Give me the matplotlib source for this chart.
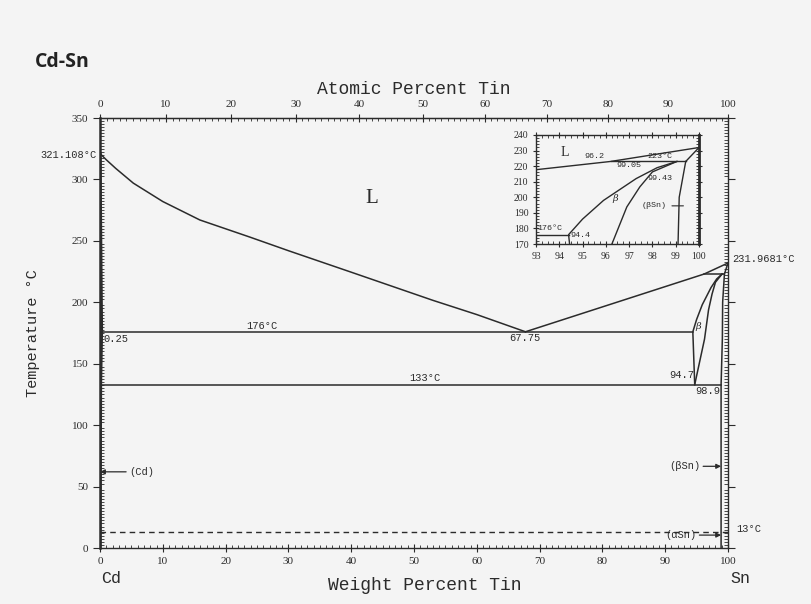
import matplotlib.pyplot as plt
import numpy as np
from matplotlib.ticker import MultipleLocator

# phase boundaries, weight percent Sn vs temperature (C)
liq_left_wt = [0, 1, 2.5, 5.3, 10, 15.9, 23.9, 30, 40, 53, 60, 67.75]
liq_left_T = [321.108, 316, 309, 297, 282, 267, 253, 242, 224.5, 201.6, 190, 176]
liq_right_wt = [67.75, 96.2, 100]
liq_right_T = [176, 223, 231.9681]
cd_solvus_wt = [0, 0.25, 0.1, 0]
cd_solvus_T = [321.108, 176, 133, 0]
beta_left_wt = [94.7, 94.4, 95.0, 95.9, 97.3, 98.2, 99.05]
beta_left_T = [133, 176, 186, 198, 212, 219, 223]
beta_right_wt = [94.7, 96.26, 96.9, 97.46, 98.0, 99.05]
beta_right_T = [133, 170, 193.8, 206.7, 216.3, 223]
sn_solvus_wt = [99.43, 99.15, 99.1, 98.9, 98.9]
sn_solvus_T = [223, 200, 170, 133, 0]
sn_solidus_wt = [99.43, 100]
sn_solidus_T = [223, 231.9681]
eutectic_wt = [0.25, 94.4]
eutectic_T = [176, 176]
eutectoid_wt = [0, 98.9]
eutectoid_T = [133, 133]
peritectic_wt = [96.2, 99.43]
peritectic_T = [223, 223]
allotropic_wt = [0, 100]
allotropic_T = [13, 13]

M_SN = 118.71
M_CD = 112.41


def wt_to_at(w):
    w = np.asarray(w, dtype=float)
    a = w / M_SN
    b = (100 - w) / M_CD
    return 100 * a / (a + b + 1e-12)


def at_to_wt(x):
    x = np.asarray(x, dtype=float)
    a = x * M_SN
    b = (100 - x) * M_CD
    return 100 * a / (a + b + 1e-12)


bg = '#f4f4f4'
ink = '#2b2b2b'
mono = 'Liberation Mono'
serif = 'Liberation Serif'

fig = plt.figure(figsize=(8.11, 6.04), dpi=100, facecolor=bg)
ax = fig.add_axes([100/811, 1-548/604, 628/811, 430/604], facecolor=bg)

solid = [(liq_left_wt, liq_left_T), (liq_right_wt, liq_right_T),
         (beta_left_wt, beta_left_T), (beta_right_wt, beta_right_T),
         (sn_solvus_wt, sn_solvus_T), (sn_solidus_wt, sn_solidus_T),
         (eutectic_wt, eutectic_T), (eutectoid_wt, eutectoid_T),
         (peritectic_wt, peritectic_T)]

for xs, ys in solid:
    ax.plot(xs, ys, color=ink, lw=1.1, solid_joinstyle='round')
ax.plot(cd_solvus_wt, cd_solvus_T, color=ink, lw=2.2)
ax.plot(allotropic_wt, allotropic_T, color=ink, lw=1.0, ls=(0, (4, 3)))

ax.set_xlim(0, 100)
ax.set_ylim(0, 350)
ax.xaxis.set_major_locator(MultipleLocator(10))
ax.xaxis.set_minor_locator(MultipleLocator(1))
ax.yaxis.set_major_locator(MultipleLocator(50))
ax.yaxis.set_minor_locator(MultipleLocator(2.5))
ax.tick_params(which='both', colors=ink, labelsize=8, right=True)
ax.tick_params(axis='x', which='major', direction='inout', length=6)
ax.tick_params(axis='x', which='minor', direction='in', length=2.5)
ax.tick_params(axis='y', which='major', direction='out', length=5)
ax.tick_params(axis='y', which='minor', direction='in', length=3)
for lab in ax.get_xticklabels() + ax.get_yticklabels():
    lab.set_family(serif)
for s in ax.spines.values():
    s.set_color(ink)
    s.set_linewidth(1.0)
ax.spines['left'].set_linewidth(1.8)

ax.set_xlabel('Weight Percent Tin', family=mono, fontsize=13, color=ink)
ax.xaxis.set_label_coords(0.517, -0.068)
ax.set_ylabel('Temperature °C', family=mono, fontsize=11, color=ink)
ax.yaxis.set_label_coords(-0.095, 0.5)

top = ax.secondary_xaxis('top', functions=(wt_to_at, at_to_wt))
top.xaxis.set_major_locator(MultipleLocator(10))
top.xaxis.set_minor_locator(MultipleLocator(1))
top.tick_params(which='major', direction='inout', length=6, labelsize=8, colors=ink)
top.tick_params(which='minor', direction='in', length=2.5, colors=ink)
for lab in top.get_xticklabels():
    lab.set_family(serif)
top.set_xlabel('Atomic Percent Tin', family=mono, fontsize=13, color=ink, labelpad=4)

fig.text(35/811, 1-62/604, 'Cd-Sn', fontsize=14, fontweight='bold',
         family='Open Sans', color='#222222', va='center')

# annotations on main diagram
tkw = dict(family=mono, fontsize=7.5, color=ink, clip_on=False)
ax.text(-0.5, 319.5, '321.108°C', ha='right', va='center', **tkw)
ax.text(43.3, 284.5, 'L', ha='center', va='center', family=serif, fontsize=15, color=ink)
ax.text(25.8, 180.5, '176°C', ha='center', va='center', **tkw)
ax.text(0.5, 170, '0.25', ha='left', va='center', **tkw)
ax.text(67.7, 175, '67.75', ha='center', va='top', **tkw)
ax.text(51.8, 138.5, '133°C', ha='center', va='center', **tkw)
ax.text(94.6, 140.5, '94.7', ha='right', va='center', **tkw)
ax.text(96.8, 132, '98.9', ha='center', va='top', **tkw)
ax.text(95.3, 180, 'β', ha='center', va='center', family='DejaVu Serif',
        fontsize=7, color=ink, style='italic')
ax.text(100.6, 235, '231.9681°C', ha='left', va='center', **tkw)
ax.text(101.3, 15.5, '13°C', ha='left', va='center', **tkw)

akw = dict(arrowstyle='-|>', color=ink, lw=0.9, mutation_scale=7, shrinkA=0, shrinkB=0)
ax.annotate('(Cd)', xy=(0, 62), xytext=(4.6, 62), ha='left', va='center',
            arrowprops=akw, **tkw)
ax.annotate('(βSn)', xy=(98.9, 66.5), xytext=(95.6, 66.5), ha='right', va='center',
            arrowprops=akw, **tkw)
ax.annotate('(αSn)', xy=(98.9, 10.5), xytext=(95.0, 10.5), ha='right', va='center',
            arrowprops=akw, **tkw)

ax.text(1.8, -0.07, 'Cd', transform=ax.get_xaxis_transform(), ha='center',
        va='center', family=mono, fontsize=12, color=ink)
ax.text(101.9, -0.07, 'Sn', transform=ax.get_xaxis_transform(), ha='center',
        va='center', family=mono, fontsize=12, color=ink)

# inset, Sn-rich corner
axi = fig.add_axes([536/811, 1-244/604, 163/811, 109/604], facecolor=bg)
for xs, ys in solid:
    axi.plot(xs, ys, color=ink, lw=1.0, solid_joinstyle='round')
axi.set_xlim(93, 100)
axi.set_ylim(170, 240)
axi.xaxis.set_major_locator(MultipleLocator(1))
axi.xaxis.set_minor_locator(MultipleLocator(0.25))
axi.yaxis.set_major_locator(MultipleLocator(10))
axi.yaxis.set_minor_locator(MultipleLocator(2))
axi.tick_params(which='both', colors=ink, labelsize=7, right=True, top=True)
axi.tick_params(which='major', direction='inout', length=4)
axi.tick_params(which='minor', direction='in', length=2)
for lab in axi.get_xticklabels() + axi.get_yticklabels():
    lab.set_family(serif)
for s in axi.spines.values():
    s.set_color(ink)
    s.set_linewidth(1.0)
axi.spines['right'].set_linewidth(2.0)

ikw = dict(family=mono, fontsize=6, color=ink)
axi.text(94.25, 229, 'L', ha='center', va='center', family=serif, fontsize=10, color=ink)
axi.text(95.5, 226.5, '96.2', ha='center', va='center', **ikw)
axi.text(97.0, 220.5, '99.05', ha='center', va='center', **ikw)
axi.text(98.3, 226, '223°C', ha='center', va='center', **ikw)
axi.text(98.3, 212, '99.43', ha='center', va='center', **ikw)
axi.text(96.4, 199, 'β', ha='center', va='center', family='DejaVu Serif',
         fontsize=7, color=ink, style='italic')
axi.text(93.6, 180, '176°C', ha='center', va='center', **ikw)
axi.text(94.9, 175.5, '94.4', ha='center', va='center', **ikw)
axi.annotate('(βSn)', xy=(99.45, 194.5), xytext=(98.6, 194.5), ha='right', va='center',
             arrowprops=dict(arrowstyle='-', color=ink, lw=0.8), **ikw)

fig.savefig('out.png', dpi=100, facecolor=bg)
